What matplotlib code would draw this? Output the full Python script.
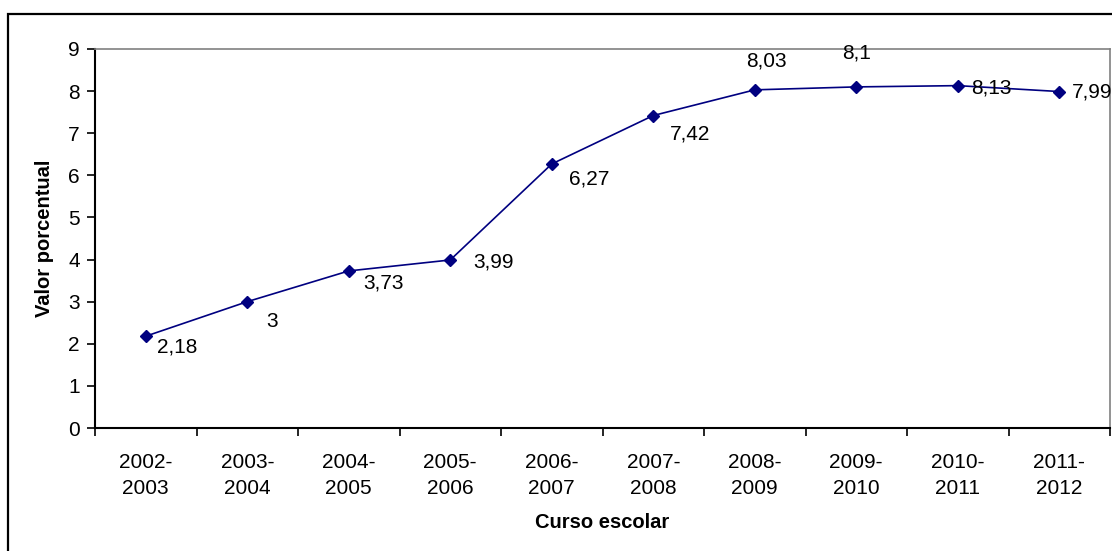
import matplotlib.pyplot as plt
from matplotlib.patches import Rectangle

# Curso escolar y valor porcentual
cursos = ['2002-\n2003', '2003-\n2004', '2004-\n2005', '2005-\n2006', '2006-\n2007',
          '2007-\n2008', '2008-\n2009', '2009-\n2010', '2010-\n2011', '2011-\n2012']
valores = [2.18, 3, 3.73, 3.99, 6.27, 7.42, 8.03, 8.1, 8.13, 7.99]
etiquetas = ['2,18', '3', '3,73', '3,99', '6,27', '7,42', '8,03', '8,1', '8,13', '7,99']

# desplazamiento de cada etiqueta respecto a su punto (pixeles)
desplaz = [(31, -11), (25, -20), (35, -12), (43, -2), (37, -15),
           (37, -18), (12, 29), (0, 34), (34, -2), (33, 0)]

plt.rcParams['font.family'] = ['Liberation Sans', 'DejaVu Sans']

W, H = 1112, 551
fig = plt.figure(figsize=(W / 100, H / 100), dpi=100)
fig.patch.set_facecolor('white')

# marco del grafico
fig.patches.append(Rectangle((8 / W, -0.1), 1.2, 1 - 14 / H + 0.1,
                             transform=fig.transFigure, fill=False,
                             edgecolor='black', linewidth=1.6))

ax = fig.add_axes([95 / W, (H - 428) / H, (1110 - 95) / W, (428 - 49) / H])

x = list(range(len(valores)))
ax.plot(x, valores, color='#000080', linewidth=1.2, marker='D', markersize=6.5,
        markerfacecolor='#000080', markeredgecolor='#000080')

for xi, v, et, (dx, dy) in zip(x, valores, etiquetas, desplaz):
    ax.annotate(et, (xi, v), xytext=(dx, dy), textcoords='offset pixels',
                ha='center', va='center', fontsize=15, color='black',
                annotation_clip=False, clip_on=False)

ax.set_xlim(-0.5, len(valores) - 0.5)
ax.set_ylim(0, 9)
ax.set_yticks(range(0, 10))
ax.set_xticks(x)
ax.set_xticklabels(cursos, fontsize=15, linespacing=1.45)
ax.set_xticks([i - 0.5 for i in range(len(valores) + 1)], minor=True)
ax.tick_params(axis='x', which='major', length=0, pad=18)
ax.tick_params(axis='x', which='minor', length=6, width=1.2, direction='out')
ax.tick_params(axis='y', length=6, width=1.2, direction='out', labelsize=15, pad=5)

for lado in ['left', 'bottom']:
    ax.spines[lado].set_color('black')
    ax.spines[lado].set_linewidth(1.5)
for lado in ['top', 'right']:
    ax.spines[lado].set_color('#808080')
    ax.spines[lado].set_linewidth(1.2)

ax.set_ylabel('Valor porcentual', fontsize=14.5, fontweight='bold', labelpad=10)
ax.set_xlabel('Curso escolar', fontsize=14.5, fontweight='bold', labelpad=11)

plt.savefig('out.png', dpi=100)
